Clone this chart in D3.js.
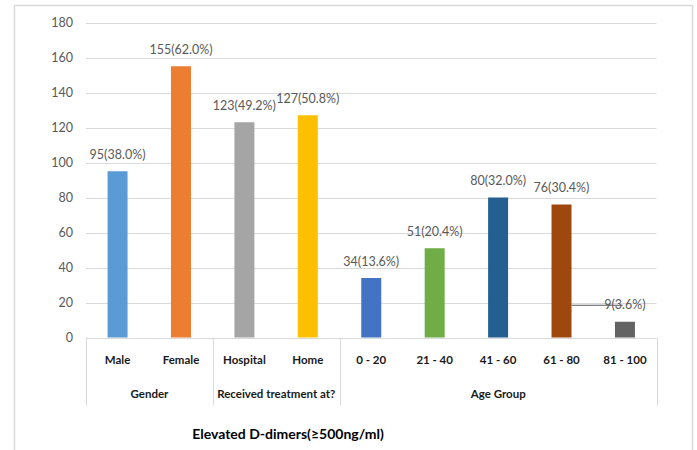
<!DOCTYPE html>
<html><head><meta charset="utf-8">
<script src="https://cdn.jsdelivr.net/npm/d3@7"></script>
<style>
html,body{margin:0;padding:0;background:#fff;}
svg{display:block;font-family:Lato,"Open Sans",sans-serif;}
</style></head>
<body><svg id="c" width="697" height="450"></svg>
<script>
const categories = ["Male","Female","Hospital","Home","0 - 20","21 - 40","41 - 60","61 - 80","81 - 100"];
const values = [95,155,123,127,34,51,80,76,9];
const percents = ["38.0%","62.0%","49.2%","50.8%","13.6%","20.4%","32.0%","30.4%","3.6%"];
const barColors = ["#5b9bd5","#ed7d31","#a5a5a5","#ffc000","#4472c4","#70ad47","#255e91","#9e480e","#636363"];
const groupNames = ["Gender","Received treatment at?","Age Group"];
const groupSizes = [2,2,5];
const yTicks = [0,20,40,60,80,100,120,140,160,180];
const title = "Elevated D-dimers(≥500ng/ml)";

(function(){
const svg = d3.select("#c");
const pl = 86, pr = 656.5, pt = 22.5, pb = 337.5;

// outer border
svg.append("rect").attr("x",14.5).attr("y",5.5).attr("width",678).attr("height",460)
  .attr("fill","none").attr("stroke","#d9d9d9").attr("stroke-width",1.5);

const x = d3.scaleBand().domain(categories).range([pl,pr]).paddingInner(0.685).paddingOuter(0.34);
const step = x.step();
const y = d3.scaleLinear().domain([0,180]).range([pb,pt]);

// gridlines
svg.append("g").selectAll("line").data(yTicks).join("line")
  .attr("x1",pl).attr("x2",pr)
  .attr("y1",d=>Math.round(y(d))+0.5).attr("y2",d=>Math.round(y(d))+0.5)
  .attr("stroke","#d9d9d9").attr("stroke-width",1);

// y axis labels
const yAxis = d3.axisLeft(y).tickValues(yTicks).tickSize(0).tickPadding(0);
const ya = svg.append("g").attr("transform",`translate(${pl-13},0)`).call(yAxis);
ya.select(".domain").remove();
ya.selectAll("text").attr("fill","#595959").style("font-size","12.5px").style("font-family","Lato,sans-serif");

// bars
svg.append("g").selectAll("rect").data(categories).join("rect")
  .attr("x",d=>x(d)).attr("width",x.bandwidth())
  .attr("y",(d,i)=>y(values[i])).attr("height",(d,i)=>y(0)-y(values[i]))
  .attr("fill",(d,i)=>barColors[i]);

const li = categories.length-1;
const labelText = (i)=>`${values[i]}(${percents[i]})`;

// data labels
const labels = svg.append("g").selectAll("text").data(categories).join("text")
  .attr("x",d=>x(d)+x.bandwidth()/2)
  .attr("y",(d,i)=>y(values[i])-12.5)
  .attr("text-anchor","middle").attr("fill","#595959")
  .style("font-size","12.5px").text((d,i)=>labelText(i));

// leader line for the last label (from neighbouring bar edge)
const lastNode = labels.nodes()[li];
const bb = lastNode.getBBox();
svg.append("line")
  .attr("x1",x(categories[li-1])+x.bandwidth()).attr("x2",bb.x+bb.width*0.45)
  .attr("y1",bb.y+bb.height/2+0.5).attr("y2",bb.y+bb.height/2+0.5)
  .attr("stroke","#595959").attr("stroke-width",1);

// category labels
svg.append("g").selectAll("text").data(categories).join("text")
  .attr("x",d=>x(d)+x.bandwidth()/2).attr("y",pb+26)
  .attr("text-anchor","middle").attr("fill","#1a1a1a")
  .style("font-size","11.5px").style("font-weight","bold").text(d=>d);

// group separators and names
let idx = 0;
const bounds = [pl];
const gpos = [];
groupSizes.forEach((n)=>{
  const start = pl + idx*step;
  idx += n;
  const end = pl + idx*step;
  bounds.push(end);
  gpos.push((start+end)/2);
});
svg.append("g").selectAll("line").data(bounds).join("line")
  .attr("x1",d=>Math.round(d)+0.5).attr("x2",d=>Math.round(d)+0.5)
  .attr("y1",pb).attr("y2",pb+68)
  .attr("stroke","#d9d9d9");
svg.append("g").selectAll("text").data(groupNames).join("text")
  .attr("x",(d,i)=>gpos[i]).attr("y",pb+60)
  .attr("text-anchor","middle").attr("fill","#1a1a1a")
  .style("font-size","11.5px").style("font-weight","bold").text(d=>d);

// title
svg.append("text").attr("x",288).attr("y",439).attr("text-anchor","middle")
  .attr("fill","#000").style("font-size","14px").style("font-weight","bold").text(title);
})();
</script></body></html>
